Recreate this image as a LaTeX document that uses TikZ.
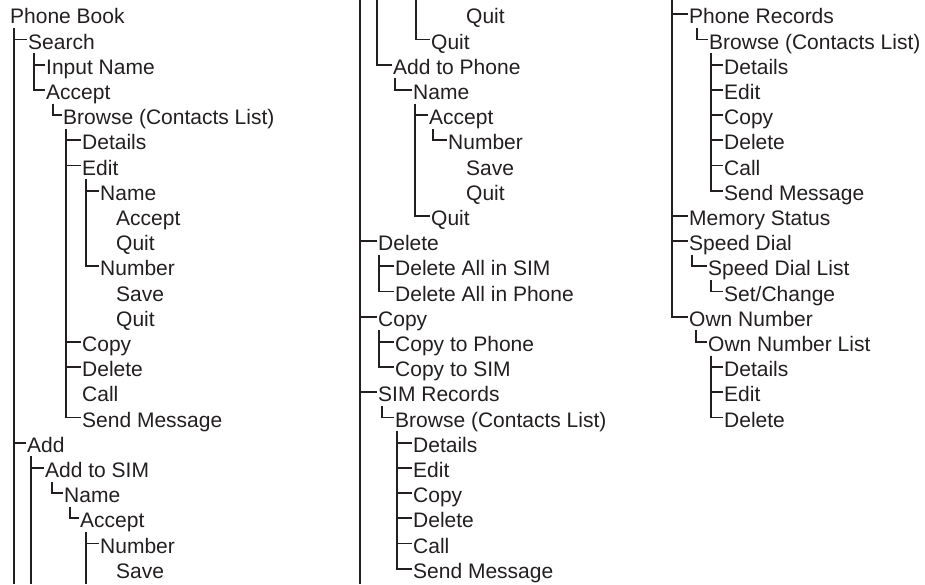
\documentclass[tikz,border=0pt]{standalone}
\usepackage{fontspec}
\setmainfont{Liberation Sans}
\definecolor{ink}{RGB}{35,31,32}

\begin{document}
\begin{tikzpicture}[x=1pt, y=-25.2pt,
    item/.style={anchor=west, inner xsep=1.5pt, inner ysep=0pt, text height=19pt, text depth=0pt, text=ink, font=\fontsize{21}{25}\selectfont},
    branch/.style={draw=ink, line width=1.8pt}
]
\useasboundingbox (0,-0.5675) rectangle (925,22.607);
\coordinate (top) at (0,-0.5675);
\coordinate (bottom) at (0,22.607);

% first column
\node[item] (pb) at (8.5,0) {Phone Book};
\node[item] (search) at (26.5,1) {Search};
\node[item] (inname) at (44.5,2) {Input Name};
\node[item] (saccept) at (44.5,3) {Accept};
\node[item] (sbrowse) at (61.5,4) {Browse (Contacts List)};
\node[item] (sdet) at (80.5,5) {Details};
\node[item] (sedit) at (80.5,6) {Edit};
\node[item] (sename) at (98.5,7) {Name};
\node[item] (senacc) at (114.5,8) {Accept};
\node[item] (senquit) at (114.5,9) {Quit};
\node[item] (senum) at (98.5,10) {Number};
\node[item] (sensave) at (114.5,11) {Save};
\node[item] (senqt) at (114.5,12) {Quit};
\node[item] (scopy) at (80.5,13) {Copy};
\node[item] (sdel) at (80.5,14) {Delete};
\node[item] (scall) at (80.5,15) {Call};
\node[item] (ssend) at (80.5,16) {Send Message};
\node[item] (add) at (25.5,17) {Add};
\node[item] (asim) at (43.5,18) {Add to SIM};
\node[item] (asname) at (62.5,19) {Name};
\node[item] (asacc) at (78.5,20) {Accept};
\node[item] (asnum) at (98.5,21) {Number};
\node[item] (assave) at (114.5,22) {Save};

% second column
\node[item] (asnqt) at (464.5,0) {Quit};
\node[item] (asquit) at (429.5,1) {Quit};
\node[item] (aphone) at (391.5,2) {Add to Phone};
\node[item] (apname) at (411.5,3) {Name};
\node[item] (apacc) at (427.5,4) {Accept};
\node[item] (apnum) at (446.5,5) {Number};
\node[item] (apsave) at (464.5,6) {Save};
\node[item] (apnqt) at (464.5,7) {Quit};
\node[item] (apquit) at (429.5,8) {Quit};
\node[item] (del) at (376.5,9) {Delete};
\node[item] (delsim) at (393.5,10) {Delete All in SIM};
\node[item] (delph) at (393.5,11) {Delete All in Phone};
\node[item] (copy) at (376.5,12) {Copy};
\node[item] (cpph) at (393.5,13) {Copy to Phone};
\node[item] (cpsim) at (393.5,14) {Copy to SIM};
\node[item] (simrec) at (376.5,15) {SIM Records};
\node[item] (simbr) at (393.5,16) {Browse (Contacts List)};
\foreach \t [count=\i] in {Details,Edit,Copy,Delete,Call,Send Message}
    \node[item] (sb\i) at (411.5,16+\i) {\t};

% third column
\node[item] (phrec) at (687.5,0) {Phone Records};
\node[item] (phbr) at (707.5,1) {Browse (Contacts List)};
\foreach \t [count=\i] in {Details,Edit,Copy,Delete,Call,Send Message}
    \node[item] (pb\i) at (722.5,1+\i) {\t};
\node[item] (mem) at (687.5,8) {Memory Status};
\node[item] (speed) at (687.5,9) {Speed Dial};
\node[item] (sdlist) at (706.5,10) {Speed Dial List};
\node[item] (setch) at (722.5,11) {Set/Change};
\node[item] (own) at (687.5,12) {Own Number};
\node[item] (ownlist) at (706.5,13) {Own Number List};
\foreach \t [count=\i] in {Details,Edit,Delete}
    \node[item] (ol\i) at (722.5,13+\i) {\t};

% where the branch lines leave their parents
\coordinate (pbL) at ([xshift=5.5pt,yshift=-4pt]pb.south west);
\coordinate (searchL) at ([xshift=7.5pt,yshift=-4pt]search.south west);
\coordinate (sacceptL) at ([xshift=8.5pt,yshift=-4pt]saccept.south west);
\coordinate (sbrowseL) at ([xshift=4.5pt,yshift=-4pt]sbrowse.south west);
\coordinate (seditL) at ([xshift=5.5pt,yshift=-4pt]sedit.south west);
\coordinate (addL) at ([xshift=5.5pt,yshift=-4pt]add.south west);
\coordinate (asimL) at ([xshift=8.5pt,yshift=-4pt]asim.south west);
\coordinate (asnameL) at ([xshift=7.5pt,yshift=-4pt]asname.south west);
\coordinate (asaccL) at ([xshift=7.5pt,yshift=-4pt]asacc.south west);
\coordinate (pbL2) at (360,-0.5675);
\coordinate (addL2) at (377,-0.5675);
\coordinate (asaccL2) at (416,-0.5675);
\coordinate (aphoneL) at ([xshift=3.5pt,yshift=-4pt]aphone.south west);
\coordinate (apnameL) at ([xshift=3.5pt,yshift=-4pt]apname.south west);
\coordinate (apaccL) at ([xshift=5.5pt,yshift=-4pt]apacc.south west);
\coordinate (delL) at ([xshift=2.5pt,yshift=-4pt]del.south west);
\coordinate (copyL) at ([xshift=2.5pt,yshift=-4pt]copy.south west);
\coordinate (simrecL) at ([xshift=5.5pt,yshift=-4pt]simrec.south west);
\coordinate (simbrL) at ([xshift=3.5pt,yshift=-4pt]simbr.south west);
\coordinate (pbL3) at (672,-0.5675);
\coordinate (phrecL) at ([xshift=9.5pt,yshift=-4pt]phrec.south west);
\coordinate (phbrL) at ([xshift=3.5pt,yshift=-4pt]phbr.south west);
\coordinate (speedL) at ([xshift=4.5pt,yshift=-4pt]speed.south west);
\coordinate (sdlistL) at ([xshift=4.5pt,yshift=-4pt]sdlist.south west);
\coordinate (ownL) at ([xshift=8.5pt,yshift=-4pt]own.south west);
\coordinate (ownlistL) at ([xshift=4.5pt,yshift=-4pt]ownlist.south west);

% branch lines
\draw[branch] (pbL) |- (search.west) (pbL) |- (add.west) (pbL) -- (pbL |- bottom);
\draw[branch] (searchL) |- (inname.west) (searchL) |- (saccept.west);
\draw[branch] (sacceptL) |- (sbrowse.west);
\draw[branch] (sbrowseL) |- (sdet.west) (sbrowseL) |- (sedit.west) (sbrowseL) |- (scopy.west)
    (sbrowseL) |- (sdel.west) (sbrowseL) |- (ssend.west);
\draw[branch] (seditL) |- (sename.west) (seditL) |- (senum.west);
\draw[branch] (addL) |- (asim.west) (addL) -- (addL |- bottom);
\draw[branch] (asimL) |- (asname.west);
\draw[branch] (asnameL) |- (asacc.west);
\draw[branch] (asaccL) |- (asnum.west) (asaccL) -- (asaccL |- bottom);

\draw[branch] (pbL2) |- (del.west) (pbL2) |- (copy.west) (pbL2) |- (simrec.west) (pbL2) -- (pbL2 |- bottom);
\draw[branch] (addL2) |- (aphone.west);
\draw[branch] (asaccL2) |- (asquit.west);
\draw[branch] (aphoneL) |- (apname.west);
\draw[branch] (apnameL) |- (apacc.west) (apnameL) |- (apquit.west);
\draw[branch] (apaccL) |- (apnum.west);
\draw[branch] (delL) |- (delsim.west) (delL) |- (delph.west);
\draw[branch] (copyL) |- (cpph.west) (copyL) |- (cpsim.west);
\draw[branch] (simrecL) |- (simbr.west);
\foreach \i in {1,...,6}
    \draw[branch] (simbrL) |- (sb\i.west);

\draw[branch] (pbL3) |- (phrec.west) (pbL3) |- (mem.west) (pbL3) |- (speed.west) (pbL3) |- (own.west);
\draw[branch] (phrecL) |- (phbr.west);
\foreach \i in {1,...,6}
    \draw[branch] (phbrL) |- (pb\i.west);
\draw[branch] (speedL) |- (sdlist.west);
\draw[branch] (sdlistL) |- (setch.west);
\draw[branch] (ownL) |- (ownlist.west);
\foreach \i in {1,...,3}
    \draw[branch] (ownlistL) |- (ol\i.west);
\end{tikzpicture}
\end{document}
